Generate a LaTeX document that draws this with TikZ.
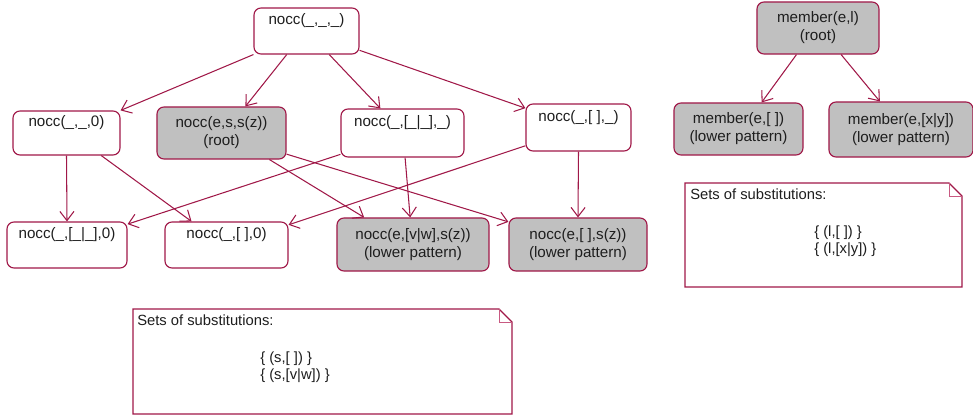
\documentclass[tikz,border=0pt]{standalone}
\usepackage{fontspec}
\setmainfont{Liberation Sans}
\usetikzlibrary{arrows.meta}
\definecolor{wine}{RGB}{160,24,72}
\definecolor{foldpink}{RGB}{200,90,130}
\definecolor{boxgray}{RGB}{192,192,192}
\definecolor{inkgray}{RGB}{30,30,30}

\begin{document}
\begin{tikzpicture}[x=0.025cm,y=-0.025cm,>={Straight Barb[length=6.5pt,width=10pt]}]
	\tikzstyle{plain}=[draw=wine,line width=0.8pt,rounded corners=5pt,fill=white,align=center,text=inkgray,font=\fontsize{10.8}{12.8}\selectfont]
	\tikzstyle{pattern}=[plain,fill=boxgray]
	\tikzstyle{edge}=[draw=wine,line width=0.75pt,->]
	\tikzstyle{note}=[draw=wine,line width=0.8pt,fill=white]
	\tikzstyle{notetext}=[inner sep=0pt,align=left,text=inkgray,font=\fontsize{10.5}{12}\selectfont]
	\useasboundingbox (0,0) rectangle (973,419);
	\draw 
	node[plain,minimum width=2.625cm,minimum height=1.15cm](T)at(306.5,31){nocc(\_,\_,\_)\\\strut}
	node[plain,minimum width=2.675cm,minimum height=1.1cm](N0)at(66.5,133){nocc(\_,\_,0)\\\strut}
	node[pattern,minimum width=3.225cm,minimum height=1.3cm](R)at(221.5,133){nocc(e,s,s(z))\\(root)}
	node[plain,minimum width=3.075cm,minimum height=1.2cm](NL)at(402.5,133){nocc(\_,[\_|\_],\_)\\\strut}
	node[plain,minimum width=2.625cm,minimum height=1.175cm](NE)at(578.5,127.5){nocc(\_,[ ],\_)\\\strut}
	node[plain,minimum width=3cm,minimum height=1.15cm](NL0)at(67,245){nocc(\_,[\_|\_],0)\\\strut}
	node[plain,minimum width=3.075cm,minimum height=1.15cm](NE0)at(226.5,245){nocc(\_,[ ],0)\\\strut}
	node[pattern,minimum width=3.8cm,minimum height=1.325cm](VW)at(413,244.5){nocc(e,[v|w],s(z))\\(lower pattern)}
	node[pattern,minimum width=3.45cm,minimum height=1.325cm](E)at(578,244.5){nocc(e,[ ],s(z))\\(lower pattern)}
	node[pattern,minimum width=3.05cm,minimum height=1.3cm](MR)at(818,28){member(e,l)\\(root)}
	node[pattern,minimum width=3.225cm,minimum height=1.3cm](ME)at(738.5,129){member(e,[ ])\\(lower pattern)}
	node[pattern,minimum width=3.6cm,minimum height=1.375cm](MXY)at(901,129.5){member(e,[x|y])\\(lower pattern)};
	
	\draw[edge](T.south west)--(N0.north east);
	\draw[edge](T.230)--(R.48);
	\draw[edge](T.314)--(NL.132);
	\draw[edge](T.340)--(NE.160);
	\draw[edge](N0.south)--(NL0.north);
	\draw[edge](N0.327)--(NE0.146);
	\draw[edge](R.331)--(VW.151);
	\draw[edge](R.342)--(E.162);
	\draw[edge](NL.199)--(NL0.19);
	\draw[edge](NL.276)--(VW.96);
	\draw[edge](NE.199)--(NE0.18);
	\draw[edge](NE.south)--(E.north);
	\draw[edge](MR.231)--(ME.49);
	\draw[edge](MR.311)--(MXY.127);
	
	% notes with folded corner
	\draw[note](133,309)--(499,309)--(512,322)--(512,414)--(133,414)--cycle;
	\draw[foldpink,line width=0.7pt](499,309)--(499,322)--(512,322);
	\node[notetext,anchor=west](S1)at(137,320){Sets of substitutions:};
	\node[notetext,anchor=north west](L1)at(260,352){\{ (s,[ ]) \}\\\{ (s,[v|w]) \}};
	\draw[note](685,183)--(949,183)--(962,196)--(962,287)--(685,287)--cycle;
	\draw[foldpink,line width=0.7pt](949,183)--(949,196)--(962,196);
	\node[notetext,anchor=west](S2)at(690,194){Sets of substitutions:};
	\node[notetext,anchor=north west](L2)at(814,226){\{ (l,[ ]) \}\\\{ (l,[x|y]) \}};
\end{tikzpicture}
\end{document}
